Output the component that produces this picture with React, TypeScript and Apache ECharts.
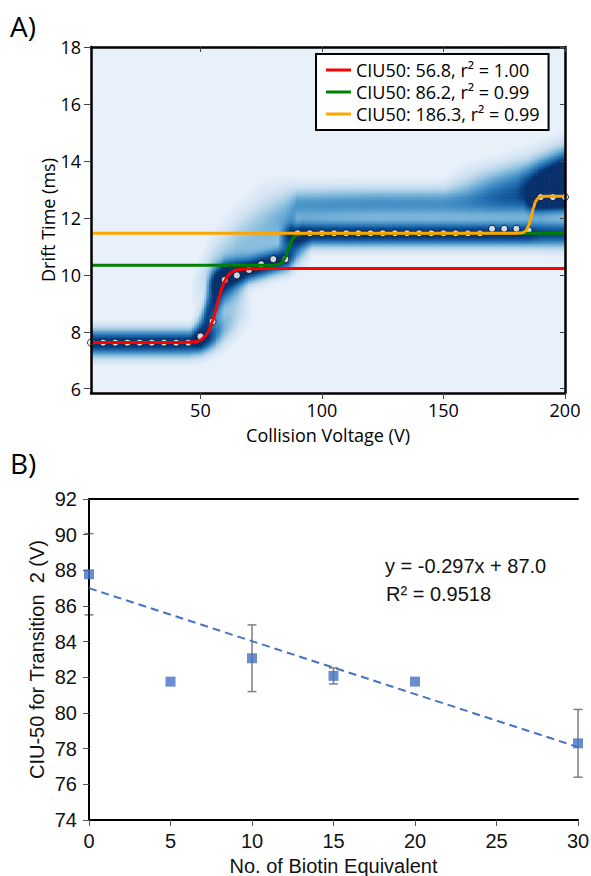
import React, { useEffect, useRef } from "react";
import * as echarts from "echarts";

const FONT_A = '"Open Sans", "Noto Sans", sans-serif';
const FONT_B = '"Liberation Sans", Arial, sans-serif';

// ---------- Panel A data ----------
const ciuVoltages = [5, 10, 15, 20, 25, 30, 35, 40, 45, 50, 55, 60, 65, 70, 75, 80, 85, 90, 95, 100, 105, 110, 115, 120, 125, 130, 135, 140, 145, 150, 155, 160, 165, 170, 175, 180, 185, 190, 195, 200];
const centroidDrift = [7.62, 7.62, 7.62, 7.62, 7.62, 7.62, 7.62, 7.62, 7.62, 7.84, 8.36, 9.82, 9.98, 10.17, 10.37, 10.55, 10.55, 11.46, 11.46, 11.46, 11.46, 11.46, 11.46, 11.46, 11.46, 11.46, 11.46, 11.46, 11.46, 11.46, 11.46, 11.46, 11.46, 11.62, 11.62, 11.62, 11.56, 12.73, 12.73, 12.73];

const redFitV = [5, 40, 45, 48, 50, 52, 53, 54, 55, 56, 57, 58, 59, 60, 61, 62, 64, 66, 70, 80, 200];
const redFitT = [7.62, 7.62, 7.63, 7.65, 7.7, 7.84, 7.96, 8.13, 8.37, 8.66, 8.98, 9.3, 9.57, 9.78, 9.94, 10.04, 10.15, 10.19, 10.21, 10.22, 10.22];
const greenFitV = [5, 80, 82, 83, 84, 85, 86, 87, 88, 89, 90, 92, 200];
const greenFitT = [10.34, 10.34, 10.36, 10.4, 10.48, 10.62, 10.85, 11.09, 11.28, 11.38, 11.42, 11.45, 11.46];
const orangeFitV = [5, 180, 182, 183, 184, 185, 186, 187, 188, 189, 190, 192, 200];
const orangeFitT = [11.46, 11.46, 11.47, 11.49, 11.56, 11.71, 12.0, 12.35, 12.59, 12.7, 12.74, 12.76, 12.76];
const fitNames = ["CIU50: 56.8, r\u00b2 = 1.00", "CIU50: 86.2, r\u00b2 = 0.99", "CIU50: 186.3, r\u00b2 = 0.99"];

// heatmap feature tracks: [voltage, drift-time centre, width, intensity]
const heatLow = [[5, 7.63, 0.3, 1], [45, 7.63, 0.3, 1], [50, 7.7, 0.3, 0.95], [55, 7.85, 0.32, 0.7], [60, 8.2, 0.4, 0.35], [66, 8.6, 0.45, 0.15], [72, 8.9, 0.45, 0]];
const heatTransit = [[46, 7.8, 0.3, 0], [50, 8.1, 0.4, 0.5], [53, 8.6, 0.5, 0.85], [56, 9.1, 0.5, 0.9], [60, 9.5, 0.45, 0.6], [65, 9.6, 0.45, 0.3], [70, 9.7, 0.4, 0]];
const heatMid = [[52, 9.6, 0.3, 0], [56, 9.8, 0.3, 0.7], [60, 10.0, 0.3, 1], [70, 10.2, 0.28, 1], [80, 10.45, 0.28, 1], [86, 10.6, 0.3, 0.9], [90, 10.9, 0.35, 0.5], [96, 11.1, 0.35, 0]];
const heatHigh = [[82, 11.2, 0.25, 0], [87, 11.4, 0.28, 0.85], [92, 11.45, 0.28, 1], [185, 11.45, 0.28, 1], [190, 11.45, 0.3, 0.85], [200, 11.45, 0.3, 0.85]];
const heatTop = [[183, 12.6, 0.28, 0], [189, 12.73, 0.28, 0.9], [200, 12.75, 0.28, 1]];
const heatWash = [[45, 9.3, 0.5, 0], [55, 10.2, 0.65, 0.22], [65, 10.9, 0.75, 0.3], [75, 11.5, 0.8, 0.33], [85, 12.0, 0.65, 0.42], [90, 12.45, 0.4, 0.5], [120, 12.5, 0.38, 0.52], [160, 12.5, 0.38, 0.52], [180, 12.6, 0.42, 0.6], [190, 12.9, 0.55, 0.78], [200, 13.2, 0.6, 0.9]];
const heatCap = [[150, 13.1, 0.4, 0], [170, 13.2, 0.45, 0.35], [185, 13.35, 0.5, 0.55], [200, 13.5, 0.6, 0.95]];
const heatTracks = [heatLow, heatTransit, heatMid, heatHigh, heatTop, heatWash, heatCap];
const blues = ["#e8f1fa", "#cfe1f2", "#a6cde4", "#75b2d8", "#4a94c8", "#2c79b7", "#175ea2", "#0b4485", "#08306b"];

const ticksAX = [50, 100, 150, 200];
const ticksAY = [6, 8, 10, 12, 14, 16, 18];

// ---------- Panel B data ----------
const biotinEq = [0, 5, 10, 15, 20, 30];
const ciu50T2 = [87.78, 81.76, 83.07, 82.08, 81.76, 78.3];
const ciu50Err = [2.28, 0, 1.87, 0.45, 0, 1.9];
const trendX = [0, 30];
const trendY = [87.0, 78.09];

const VMIN = 5, VMAX = 200, TMIN = 5.85, TMAX = 18;
const DV = 1, DT = 0.05;

function trackAt(track: number[][], v: number) {
  if (v < track[0][0] || v > track[track.length - 1][0]) return null;
  for (let i = 0; i < track.length - 1; i++) {
    const a = track[i], b = track[i + 1];
    if (v >= a[0] && v <= b[0]) {
      const f = b[0] === a[0] ? 0 : (v - a[0]) / (b[0] - a[0]);
      return { c: a[1] + f * (b[1] - a[1]), s: a[2] + f * (b[2] - a[2]), a: a[3] + f * (b[3] - a[3]) };
    }
  }
  const l = track[track.length - 1];
  return { c: l[1], s: l[2], a: l[3] };
}

function buildHeat() {
  const cells: number[][] = [];
  const nRows = Math.round((TMAX - TMIN) / DT);
  for (let v = VMIN; v <= VMAX; v += DV) {
    const comps = heatTracks.map((t) => trackAt(t, v)).filter((x) => x && x.a > 0) as any[];
    for (let k = 0; k < nRows; k++) {
      const t = TMIN + DT / 2 + k * DT;
      let I = 0;
      for (const c of comps) I += c.a * Math.exp(-((t - c.c) * (t - c.c)) / (2 * c.s * c.s));
      if (I > 0.03) cells.push([v, +t.toFixed(3), Math.min(I, 1)]);
    }
  }
  return cells;
}

export default function App() {
  const ref = useRef<HTMLDivElement>(null);
  useEffect(() => {
    const chart = echarts.init(ref.current!, null, { renderer: "svg" });
    const heat = buildHeat();
    const axLineA = { show: true, lineStyle: { color: "#000", width: 2.5 } };
    const axLineB = { show: true, lineStyle: { color: "#000", width: 2 } };
    const option: any = {
      animation: false,
      backgroundColor: "#fff",
      grid: [
        { left: 91, top: 47, width: 474, height: 346, show: true, backgroundColor: blues[0], borderWidth: 0, outerBoundsMode: "none", containLabel: false },
        { left: 89, top: 499, width: 489, height: 321, show: false, outerBoundsMode: "none", containLabel: false },
      ],
      xAxis: [
        {
          type: "value", gridIndex: 0, position: "bottom", min: VMIN, max: VMAX, z: 5,
          name: "Collision Voltage (V)", nameLocation: "middle", nameGap: 33, nameMoveOverlap: false,
          nameTextStyle: { fontFamily: FONT_A, fontSize: 18, color: "#000", lineHeight: 18 },
          axisLine: axLineA, splitLine: { show: false },
          axisTick: { show: true, customValues: ticksAX, length: 6, lineStyle: { color: "#444", width: 1 } },
          axisLabel: { customValues: ticksAX, fontFamily: FONT_A, fontSize: 18, color: "#000", margin: 8, lineHeight: 18 },
        },
        {
          type: "value", gridIndex: 0, position: "top", min: VMIN, max: VMAX, z: 5,
          axisLine: axLineA, splitLine: { show: false },
          axisTick: { show: true, inside: true, customValues: ticksAX, length: 5, lineStyle: { color: "#444", width: 1 } },
          axisLabel: { show: false },
        },
        {
          type: "value", gridIndex: 1, position: "bottom", min: 0, max: 30, interval: 5, z: 3,
          name: "No. of Biotin Equivalent", nameLocation: "middle", nameGap: 36, nameMoveOverlap: false,
          nameTextStyle: { fontFamily: FONT_B, fontSize: 20, color: "#111", lineHeight: 20 },
          axisLine: axLineB, splitLine: { show: false },
          axisTick: { show: true, length: 6, lineStyle: { color: "#555", width: 1 } },
          axisLabel: { fontFamily: FONT_B, fontSize: 20, color: "#111", margin: 11, lineHeight: 20 },
        },
        {
          type: "value", gridIndex: 1, position: "top", min: 0, max: 30, z: 3,
          axisLine: axLineB, splitLine: { show: false }, axisTick: { show: false }, axisLabel: { show: false },
        },
      ],
      yAxis: [
        {
          type: "value", gridIndex: 0, position: "left", min: TMIN, max: TMAX, z: 5,
          name: "Drift Time (ms)", nameLocation: "middle", nameGap: 34, nameMoveOverlap: false,
          nameTextStyle: { fontFamily: FONT_A, fontSize: 18, color: "#000" },
          axisLine: axLineA, splitLine: { show: false },
          axisTick: { show: true, customValues: ticksAY, length: 7, lineStyle: { color: "#444", width: 1 } },
          axisLabel: { customValues: ticksAY, fontFamily: FONT_A, fontSize: 18, color: "#000", margin: 10 },
        },
        {
          type: "value", gridIndex: 0, position: "right", min: TMIN, max: TMAX, z: 5,
          axisLine: axLineA, splitLine: { show: false },
          axisTick: { show: true, inside: true, customValues: ticksAY, length: 5, lineStyle: { color: "#444", width: 1 } },
          axisLabel: { show: false },
        },
        {
          type: "value", gridIndex: 1, position: "left", min: 74, max: 92, interval: 2, z: 3,
          name: "CIU-50 for Transition  2 (V)", nameLocation: "middle", nameGap: 42, nameMoveOverlap: false,
          nameTextStyle: { fontFamily: FONT_B, fontSize: 20, color: "#111" },
          axisLine: axLineB, splitLine: { show: false },
          axisTick: { show: true, length: 6, lineStyle: { color: "#555", width: 1 } },
          axisLabel: { fontFamily: FONT_B, fontSize: 20, color: "#111", margin: 12 },
        },
        {
          type: "value", gridIndex: 1, position: "right", min: 74, max: 92, z: 3,
          axisLine: axLineB, splitLine: { show: false }, axisTick: { show: false }, axisLabel: { show: false },
        },
      ],
      visualMap: {
        type: "continuous", show: false, seriesIndex: 0, dimension: 2, min: 0, max: 1,
        inRange: { color: blues },
      },
      legend: {
        data: fitNames, orient: "vertical", left: 316, top: 54, icon: "rect",
        itemWidth: 25, itemHeight: 3, itemGap: 0, padding: [5, 9, 5, 10],
        backgroundColor: "#fff", borderColor: "#000", borderWidth: 2, borderRadius: 0,
        selectedMode: false, z: 10,
        textStyle: { fontFamily: FONT_A, fontSize: 18, color: "#000", lineHeight: 22 },
      },
      graphic: [
        { type: "text", left: 10, top: 12, style: { text: "A)", font: `28px ${FONT_A}`, fill: "#000" } },
        { type: "text", left: 10, top: 449, style: { text: "B)", font: `28px ${FONT_A}`, fill: "#000" } },
        { type: "text", left: 385, top: 556, z: 10, style: { text: "y = -0.297x + 87.0", font: `20px ${FONT_B}`, fill: "#111" } },
        { type: "text", left: 386, top: 584, z: 10, style: { text: "R\u00b2 = 0.9518", font: `20px ${FONT_B}`, fill: "#111" } },
      ],
      series: [
        {
          type: "custom", xAxisIndex: 0, yAxisIndex: 0, z: 1, silent: true, clip: true,
          encode: { x: 0, y: 1 }, data: heat,
          renderItem: (params: any, api: any) => {
            const v = api.value(0), t = api.value(1);
            const x0 = Math.max(v - DV / 2, VMIN), x1 = Math.min(v + DV / 2, VMAX);
            const y0 = Math.max(t - DT / 2, TMIN), y1 = Math.min(t + DT / 2, TMAX);
            const p0 = api.coord([x0, y1]);
            const p1 = api.coord([x1, y0]);
            return {
              type: "rect",
              shape: { x: p0[0], y: p0[1], width: p1[0] - p0[0] + 0.6, height: p1[1] - p0[1] + 0.6 },
              style: { fill: api.visual("color") },
            };
          },
        },
        {
          type: "scatter", xAxisIndex: 0, yAxisIndex: 0, z: 3, symbol: "circle", symbolSize: 7,
          itemStyle: { color: "#fff", borderColor: "#000", borderWidth: 1 },
          data: ciuVoltages.map((v, i) => [v, centroidDrift[i]]),
        },
        {
          type: "line", name: fitNames[0], xAxisIndex: 0, yAxisIndex: 0, z: 4, showSymbol: false,
          smooth: 0.3, smoothMonotone: "x", color: "#ff0000", lineStyle: { color: "#ff0000", width: 3 },
          data: redFitV.map((v, i) => [v, redFitT[i]]),
        },
        {
          type: "line", name: fitNames[1], xAxisIndex: 0, yAxisIndex: 0, z: 4, showSymbol: false,
          smooth: 0.3, smoothMonotone: "x", color: "#008000", lineStyle: { color: "#008000", width: 3 },
          data: greenFitV.map((v, i) => [v, greenFitT[i]]),
        },
        {
          type: "line", name: fitNames[2], xAxisIndex: 0, yAxisIndex: 0, z: 4, showSymbol: false,
          smooth: 0.3, smoothMonotone: "x", color: "#ffa500", lineStyle: { color: "#ffa500", width: 3 },
          data: orangeFitV.map((v, i) => [v, orangeFitT[i]]),
        },
        {
          type: "line", xAxisIndex: 2, yAxisIndex: 2, z: 4, showSymbol: false,
          lineStyle: { color: "#4472c4", width: 2, type: [8, 5] },
          data: trendX.map((x, i) => [x, trendY[i]]),
        },
        {
          type: "custom", xAxisIndex: 2, yAxisIndex: 2, z: 2, clip: false, silent: true,
          encode: { x: 0, y: 1 },
          data: biotinEq.map((x, i) => [x, ciu50T2[i], ciu50Err[i]]).filter((d) => d[2] > 0),
          renderItem: (params: any, api: any) => {
            const x = api.value(0), y = api.value(1), e = api.value(2);
            const top = api.coord([x, y + e]);
            const bot = api.coord([x, y - e]);
            const hw = 4.5;
            const st = { stroke: "#7f7f7f", lineWidth: 1.5 };
            return {
              type: "group",
              children: [
                { type: "line", shape: { x1: top[0], y1: top[1], x2: bot[0], y2: bot[1] }, style: st },
                { type: "line", shape: { x1: top[0] - hw, y1: top[1], x2: top[0] + hw, y2: top[1] }, style: st },
                { type: "line", shape: { x1: bot[0] - hw, y1: bot[1], x2: bot[0] + hw, y2: bot[1] }, style: st },
              ],
            };
          },
        },
        {
          type: "scatter", xAxisIndex: 2, yAxisIndex: 2, z: 5, symbol: "rect", symbolSize: 10, clip: false,
          itemStyle: { color: "#4472c4" },
          data: biotinEq.map((x, i) => [x, ciu50T2[i]]),
        },
      ],
    };
    chart.setOption(option);
    return () => chart.dispose();
  }, []);
  return <div ref={ref} style={{ position: "absolute", left: 0, top: 0, width: 591, height: 876, background: "#fff" }} />;
}
